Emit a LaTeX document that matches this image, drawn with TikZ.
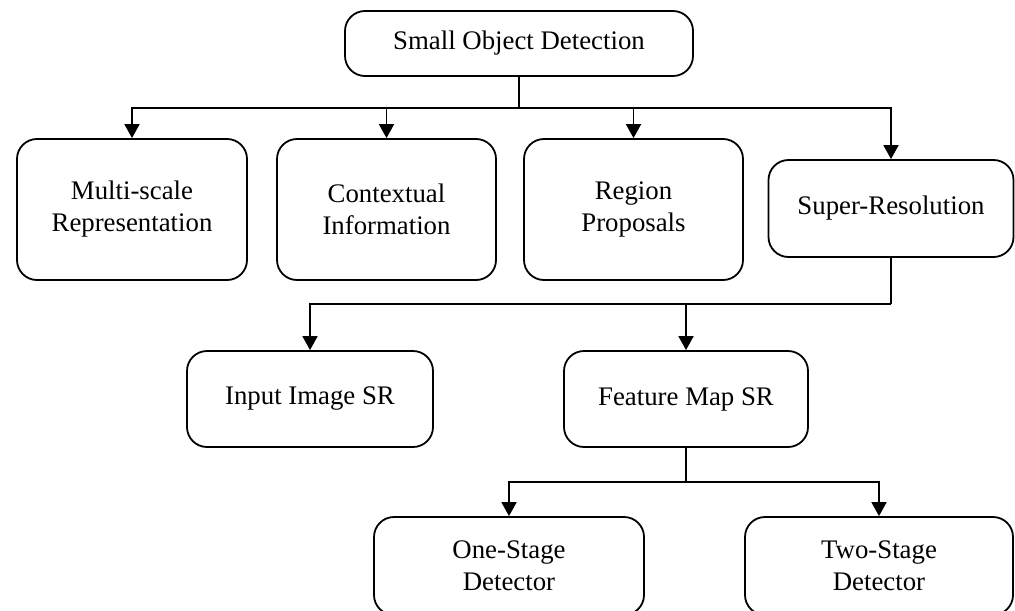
\documentclass[tikz,border=0pt]{standalone}
\usepackage{fontspec}
\setmainfont{Liberation Serif}
\usetikzlibrary{arrows.meta}
\begin{document}
\begin{tikzpicture}[x=0.5pt,y=-0.5pt]
        \tikzset{box node/.style={draw=black, line width=0.9pt, rounded corners=10pt, fill=white, align=center, inner sep=0pt, font=\fontsize{13.4}{16}\selectfont},
          link/.style={line width=0.9pt, -{Triangle[length=7pt,width=7.5pt]}}}
        \useasboundingbox (0,0) rectangle (1015,610);
        \node[box node, minimum width=174pt, minimum height=32.5pt] (top) at (519,43.5) {Small Object Detection};
        \node[box node, minimum width=115pt, minimum height=70.5pt] (multi) at (132,209.5) {Multi-scale\\Representation};
        \node[box node, minimum width=109.5pt, minimum height=70.5pt] (context) at (386.5,209.5) {Contextual\\Information};
        \node[box node, minimum width=109.5pt, minimum height=70.5pt] (region) at (633.5,209.5) {Region\\Proposals};
        \node[box node, minimum width=122.5pt, minimum height=48.5pt] (super) at (891,208.5) {Super-Resolution};
        \node[box node, minimum width=123pt, minimum height=48pt] (input) at (310,399) {Input Image SR};
        \node[box node, minimum width=122pt, minimum height=48pt] (feature) at (686,399) {Feature Map SR};
        \node[box node, minimum width=135pt, minimum height=49pt] (one) at (509,566) {One-Stage\\Detector};
        \node[box node, minimum width=134pt, minimum height=49pt] (two) at (879,566) {Two-Stage\\Detector};
        \coordinate (bus1) at (519,108);
        \coordinate (bus2) at (891,304);
        \coordinate (bus3) at (686,482);
        \draw[line width=0.9pt] (top.south) -- (bus1);
        \draw[link] (bus1) -| (multi.north);
        \draw[link] (bus1) -| (context.north);
        \draw[link] (bus1) -| (region.north);
        \draw[link] (bus1) -| (super.north);
        \draw[line width=0.9pt] (super.south) -- (bus2);
        \draw[link] (bus2) -| (input.north);
        \draw[link] (bus2) -| (feature.north);
        \draw[line width=0.9pt] (feature.south) -- (bus3);
        \draw[link] (bus3) -| (one.north);
        \draw[link] (bus3) -| (two.north);
      \end{tikzpicture}
\end{document}
